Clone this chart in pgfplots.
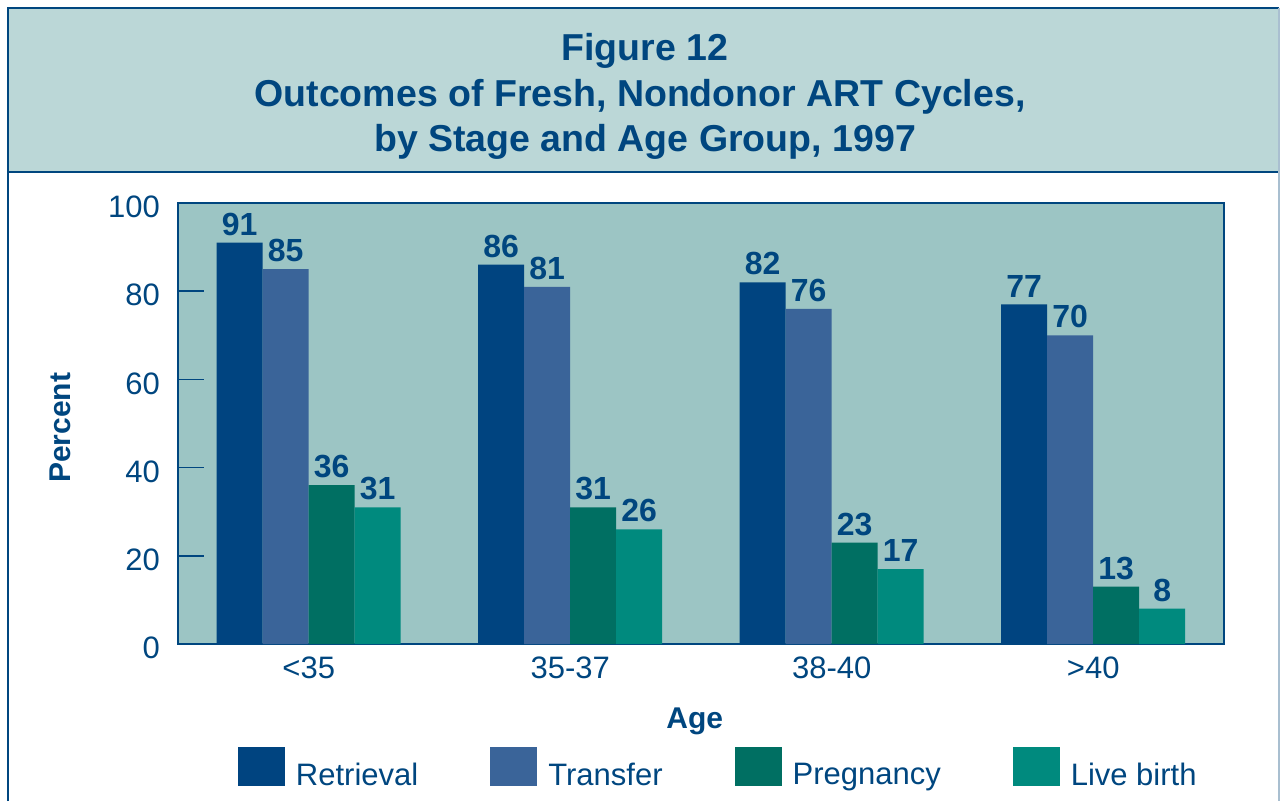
\documentclass[border=0pt]{standalone}
\usepackage{fontspec}
\setmainfont{Liberation Sans}
\usepackage{pgfplots}
\pgfplotsset{compat=1.18}
\definecolor{txtblue}{HTML}{00467F}
\definecolor{cRet}{HTML}{004480}
\definecolor{cTra}{HTML}{3A6499}
\definecolor{cPre}{HTML}{006F62}
\definecolor{cLive}{HTML}{008A7E}
\definecolor{plotbg}{HTML}{9CC5C4}
\definecolor{titlebg}{HTML}{BBD7D7}
\definecolor{framegrey}{HTML}{A9BFD0}
\begin{document}
\begin{tikzpicture}[x=1pt,y=1pt]
\useasboundingbox (0,0) rectangle (1280,801);
% frame and title box (image y -> 801 - y)
\fill[titlebg] (8,793) rectangle (1279,629);
\draw[txtblue, line width=2pt] (8,0) -- (8,793) -- (1279,793);
\draw[txtblue, line width=2pt] (8,629) -- (1279,629);
\draw[framegrey, line width=1.5pt] (1279,793) -- (1279,0);
\node[anchor=base, text=txtblue, font=\fontsize{37.5}{40}\selectfont\bfseries] at (645,740.6) {Figure 12};
\node[anchor=base, text=txtblue, font=\fontsize{37.5}{40}\selectfont\bfseries] at (640,694.6) {Outcomes of Fresh, Nondonor ART Cycles,};
\node[anchor=base, text=txtblue, font=\fontsize{37.5}{40}\selectfont\bfseries] at (645,649.6) {by Stage and Age Group, 1997};
\begin{axis}[
  at={(178pt,157pt)}, anchor=south west,
  scale only axis, width=1046pt, height=441pt,
  ybar=0pt, bar width=46pt,
  xmin=-0.5, xmax=3.5, ymin=0, ymax=100,
  xtick={0,1,2,3}, xticklabels={<35,35-37,38-40,>40},
  ytick={0,20,40,60,80,100},
  ytick pos=left, tick align=inside,
  major tick length=26pt,
  y tick style={color=txtblue, line width=1.5pt},
  x tick style={draw=none},
  axis line style={color=txtblue, line width=2pt},
  axis background/.style={fill=plotbg},
  /pgf/number format/assume math mode=true,
  ticklabel style={font=\fontsize{31}{34}\selectfont, text=txtblue, inner sep=0pt},
  yticklabel style={xshift=-18pt, yshift=-4pt},
  xticklabel style={yshift=-13pt},
  xlabel={Age}, ylabel={Percent},
  xlabel style={font=\fontsize{30}{33}\selectfont\bfseries, text=txtblue, at={(axis description cs:0.494,-0.1905)}, anchor=base},
  ylabel style={font=\fontsize{30}{33}\selectfont\bfseries, text=txtblue, at={(axis description cs:-0.1128,0.49)}, anchor=center},
  nodes near coords,
  every node near coord/.append style={font=\fontsize{32}{34}\selectfont\bfseries, text=txtblue, inner sep=0pt, yshift=7pt, anchor=south},
  legend columns=4,
  legend image code/.code={\fill[#1] (0pt,0pt) rectangle (47pt,39pt);},
  legend style={draw=none, fill=none, inner sep=0pt, outer sep=0pt,
    at={(0.05736,-0.23356)}, anchor=north west,
    font=\fontsize{31}{34}\selectfont, text=txtblue,
    nodes={inner sep=0pt, yshift=11pt},
    /tikz/every odd column/.append style={column sep=11pt},
    /tikz/every even column/.append style={column sep=72pt}},
  legend cell align=left,
]
\addplot[fill=cRet, draw=none] coordinates {(0,91) (1,86) (2,82) (3,77)};
\addplot[fill=cTra, draw=none] coordinates {(0,85) (1,81) (2,76) (3,70)};
\addplot[fill=cPre, draw=none] coordinates {(0,36) (1,31) (2,23) (3,13)};
\addplot[fill=cLive, draw=none] coordinates {(0,31) (1,26) (2,17) (3,8)};
\legend{Retrieval,Transfer,Pregnancy,Live birth}
\end{axis}
\end{tikzpicture}
\end{document}
